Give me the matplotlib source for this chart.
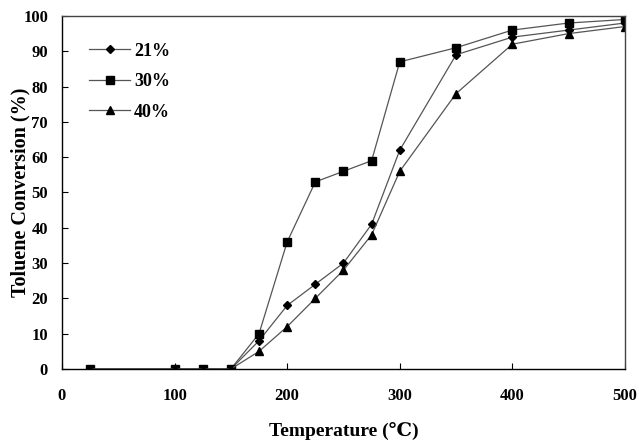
import matplotlib
matplotlib.use("Agg")
import matplotlib.pyplot as plt

plt.rcParams["font.family"] = ["Liberation Serif", "DejaVu Serif"]
plt.rcParams["font.weight"] = "bold"

temperature = [25, 100, 125, 150, 175, 200, 225, 250, 275, 300, 350, 400, 450, 500]
conv_21 = [0, 0, 0, 0, 8, 18, 24, 30, 41, 62, 89, 94, 96, 98]
conv_30 = [0, 0, 0, 0, 10, 36, 53, 56, 59, 87, 91, 96, 98, 99]
conv_40 = [0, 0, 0, 0, 5, 12, 20, 28, 38, 56, 78, 92, 95, 97]

x_ticks = [0, 100, 200, 300, 400, 500]
y_ticks = list(range(0, 101, 10))

fig = plt.figure(figsize=(6.39, 4.43), dpi=100)
ax = fig.add_axes([0.097, 0.167, 0.881, 0.797])

line_kw = dict(color="#555555", linewidth=0.9, markerfacecolor="black", markeredgecolor="black")
ax.plot(temperature, conv_21, marker="D", markersize=4.5, label="21%", **line_kw)
ax.plot(temperature, conv_30, marker="s", markersize=6, label="30%", **line_kw)
ax.plot(temperature, conv_40, marker="^", markersize=6, label="40%", **line_kw)

ax.set_xlim(0, 500)
ax.set_ylim(0, 100)
ax.set_xticks(x_ticks)
ax.set_yticks(y_ticks)
ax.tick_params(direction="in", length=4, width=0.8, labelsize=12)
ax.tick_params(axis="x", pad=14)
ax.tick_params(axis="y", pad=10)
for lbl in ax.get_xticklabels() + ax.get_yticklabels():
    lbl.set_fontweight("bold")
for side in ["left", "bottom"]:
    ax.spines[side].set_linewidth(1.0)
    ax.spines[side].set_color("black")
for side in ["top", "right"]:
    ax.spines[side].set_linewidth(1.0)
    ax.spines[side].set_color("#444444")

ax.set_xlabel("Temperature (\u2103)", fontsize=14, fontweight="bold", va="center")
ax.xaxis.set_label_coords(0.5, -0.176)
ax.set_ylabel("Toluene Conversion (%)", fontsize=14.5, fontweight="bold", va="center")
ax.yaxis.set_label_coords(-0.073, 0.5)

leg = ax.legend(loc="upper left", bbox_to_anchor=(0.035, 0.945), frameon=False,
                prop={"weight": "bold", "size": 13}, handlelength=2.3,
                handletextpad=0.2, labelspacing=0.75, borderaxespad=0)

fig.savefig("out.png", dpi=100)
